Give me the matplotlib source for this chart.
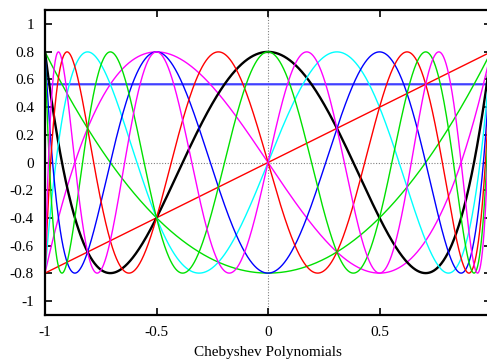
import numpy as np
import matplotlib
matplotlib.use("Agg")
import matplotlib.pyplot as plt
from numpy.polynomial import chebyshev as C

# orthonormal Chebyshev polynomials T0..T9
degrees = [0, 1, 2, 3, 4, 5, 6, 7, 8, 9]
colors = ["#4040ff", "red", "#00e000", "magenta", "black",
          "cyan", "blue", "red", "#00e000", "magenta"]
widths = [1.6, 1, 1, 1, 1.7, 1, 1, 1, 1, 1]

x_ticks = [-1, -0.5, 0, 0.5]
x_labels = ["-1", "-0.5", "0", "0.5"]
y_ticks = [-1, -0.8, -0.6, -0.4, -0.2, 0, 0.2, 0.4, 0.6, 0.8, 1]
y_labels = ["-1", "-0.8", "-0.6", "-0.4", "-0.2", "0", "0.2", "0.4", "0.6", "0.8", "1"]

plt.rcParams['font.family'] = ['Liberation Serif', 'DejaVu Serif']

fig = plt.figure(figsize=(4.87, 3.62), dpi=100)
ax = fig.add_axes([45 / 487, 47 / 362, 446 / 487, 305 / 362])

x = np.linspace(-1, 1, 1500)
for n, c, lw in zip(degrees, colors, widths):
    norm = np.sqrt(1 / np.pi) if n == 0 else np.sqrt(2 / np.pi)
    y = norm * C.chebval(x, [0] * n + [1])
    ax.plot(x, y, color=c, lw=lw, solid_joinstyle='round')

ax.axhline(0, color='#808080', lw=0.8, ls=(0, (1, 1.5)), zorder=0)
ax.axvline(0, color='#808080', lw=0.8, ls=(0, (1, 1.5)), zorder=0)

ax.set_xlim(-1, 1)
ax.set_ylim(-1.1, 1.1)
ax.set_xticks(x_ticks)
ax.set_xticklabels(x_labels)
ax.set_yticks(y_ticks)
ax.set_yticklabels(y_labels)
ax.tick_params(direction='in', length=5, width=1.2, top=True, right=True,
               labelsize=11, pad=8)
for s in ax.spines.values():
    s.set_linewidth(1.6)
ax.set_xlabel("Chebyshev Polynomials", fontsize=11, labelpad=5)

fig.savefig("out.png", dpi=100)
